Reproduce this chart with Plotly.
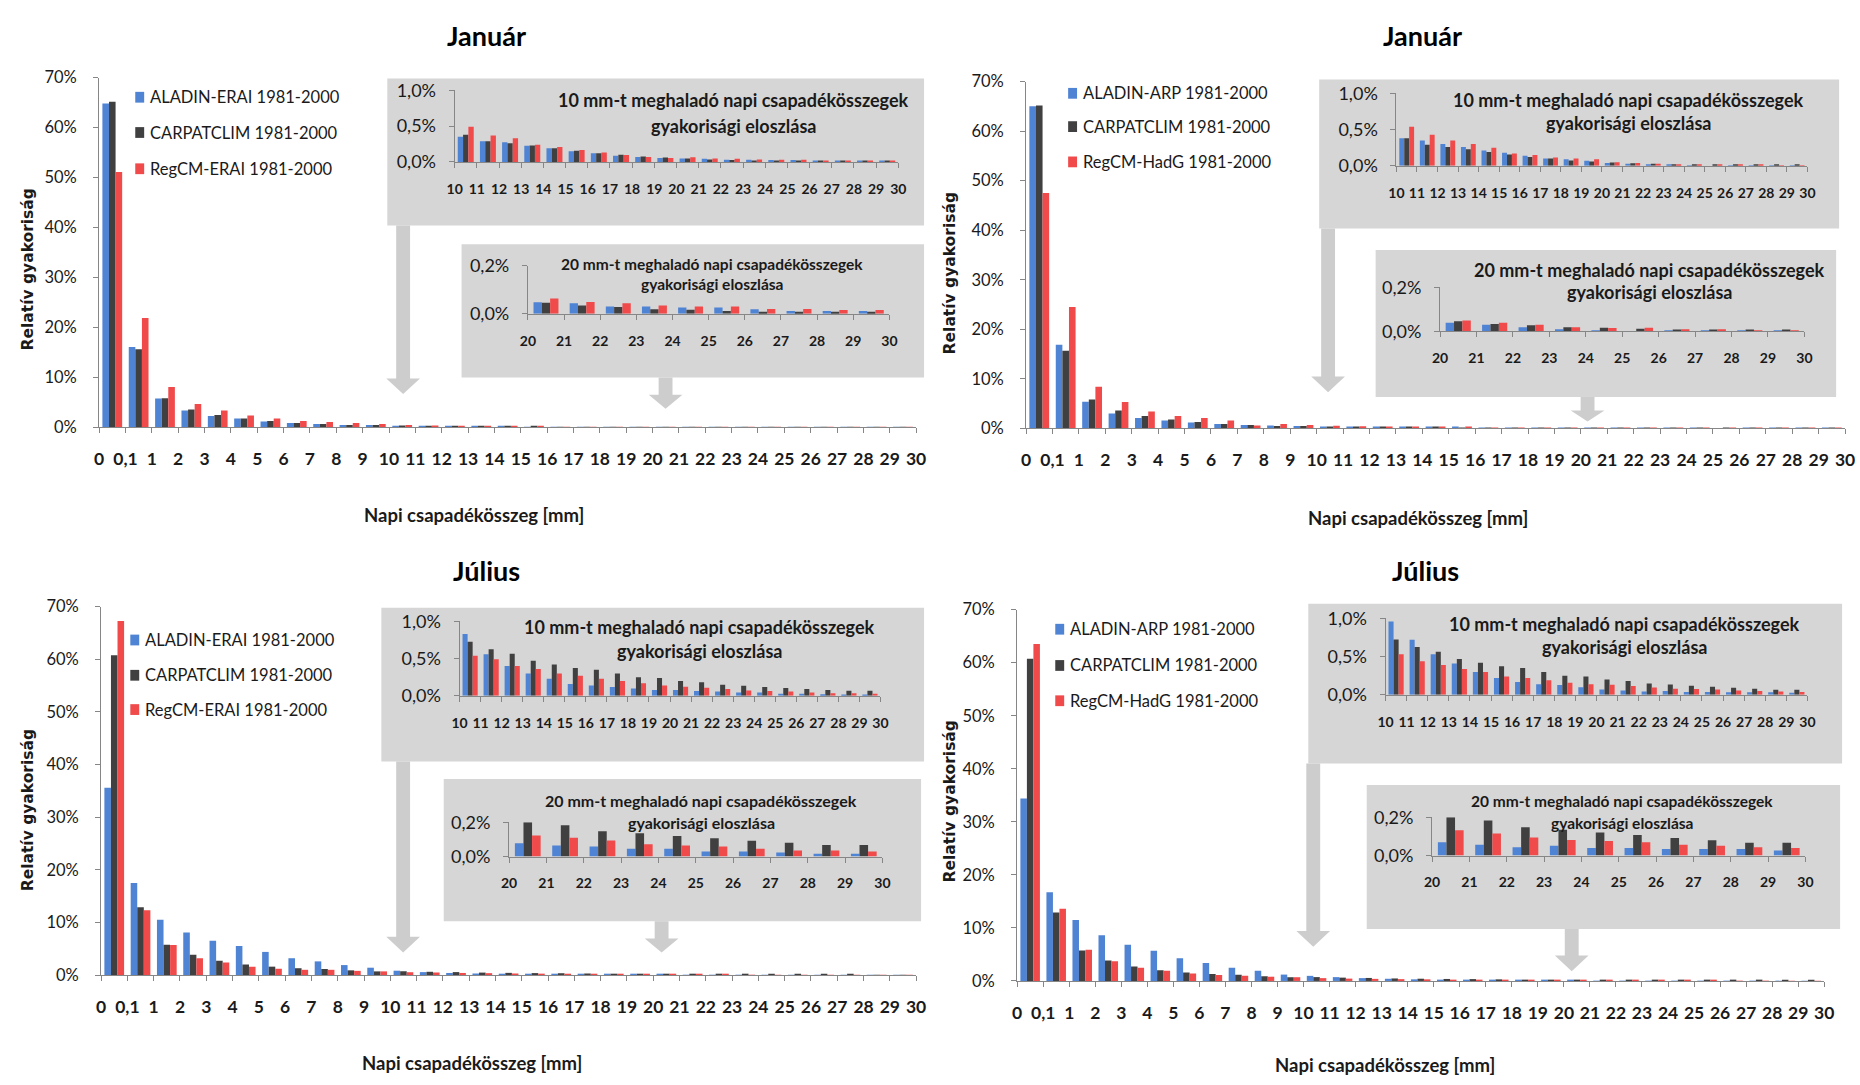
import plotly.graph_objects as go

W, H = 1860, 1085

# Bin edges shown on the category axes and the bins between them
edge_labels = ["0", "0,1"] + [str(i) for i in range(1, 31)]
bin_names = [f"{a}–{b}" for a, b in zip(edge_labels[:-1], edge_labels[1:])]
bin_mid = [i + 0.5 for i in range(len(bin_names))]

# Relative frequency of daily precipitation totals [%], one value per bin
jan_carpatclim = [65.15, 15.65, 5.85, 3.6, 2.5, 1.8, 1.3, 0.9, 0.7, 0.5, 0.5,
                  0.38, 0.29, 0.26, 0.23, 0.19, 0.155, 0.12, 0.10, 0.075, 0.06,
                  0.046, 0.034, 0.028, 0.019, 0.017, 0.012, 0.008, 0.008, 0.008, 0.008]
jan_aladin_erai = [64.8, 16.1, 5.8, 3.4, 2.3, 1.8, 1.2, 0.9, 0.7, 0.5, 0.5,
                   0.35, 0.29, 0.275, 0.225, 0.19, 0.15, 0.12, 0.087, 0.07, 0.055,
                   0.048, 0.044, 0.030, 0.030, 0.026, 0.026, 0.019, 0.011, 0.011, 0.011]
jan_regcm_erai = [51.1, 21.9, 8.1, 4.7, 3.4, 2.4, 1.8, 1.3, 1.1, 0.9, 0.7,
                  0.49, 0.37, 0.33, 0.24, 0.21, 0.165, 0.13, 0.096, 0.07, 0.055,
                  0.064, 0.049, 0.044, 0.034, 0.030, 0.030, 0.020, 0.020, 0.016, 0.016]
jan_aladin_arp = [65.0, 16.9, 5.4, 3.0, 2.1, 1.6, 1.2, 0.9, 0.7, 0.6, 0.5,
                  0.38, 0.35, 0.30, 0.26, 0.21, 0.18, 0.14, 0.10, 0.09, 0.07,
                  0.039, 0.030, 0.019, 0.010, 0.004, 0.0, 0.004, 0.004, 0.004, 0.004]
jan_regcm_hadg = [47.5, 24.5, 8.4, 5.3, 3.4, 2.5, 2.1, 1.6, 0.6, 0.9, 0.7,
                  0.54, 0.43, 0.35, 0.30, 0.25, 0.17, 0.15, 0.115, 0.10, 0.09,
                  0.049, 0.039, 0.030, 0.019, 0.015, 0.016, 0.010, 0.010, 0.004, 0.004]

jul_carpatclim = [60.75, 12.9, 5.75, 3.85, 2.7, 2.0, 1.6, 1.3, 1.15, 0.9, 0.7,
                  0.725, 0.625, 0.565, 0.47, 0.42, 0.375, 0.35, 0.30, 0.25, 0.24,
                  0.20, 0.183, 0.148, 0.135, 0.12, 0.107, 0.092, 0.08, 0.067, 0.067]
jul_aladin_erai = [35.6, 17.5, 10.5, 8.1, 6.5, 5.5, 4.4, 3.2, 2.6, 1.9, 1.4,
                   0.83, 0.56, 0.40, 0.30, 0.23, 0.16, 0.14, 0.12, 0.10, 0.08,
                   0.078, 0.064, 0.058, 0.045, 0.045, 0.029, 0.029, 0.023, 0.016, 0.016]
jul_regcm_erai = [67.3, 12.3, 5.7, 3.2, 2.4, 1.6, 1.2, 1.0, 1.0, 0.8, 0.7,
                  0.54, 0.49, 0.40, 0.36, 0.30, 0.27, 0.23, 0.20, 0.17, 0.14,
                  0.122, 0.11, 0.093, 0.072, 0.064, 0.058, 0.045, 0.035, 0.035, 0.029]
jul_aladin_arp = [34.4, 16.7, 11.5, 8.6, 6.8, 5.7, 4.3, 3.4, 2.5, 1.9, 1.2,
                  0.96, 0.72, 0.53, 0.41, 0.30, 0.22, 0.17, 0.14, 0.13, 0.10,
                  0.069, 0.056, 0.044, 0.051, 0.039, 0.039, 0.034, 0.034, 0.034, 0.027]
jul_regcm_hadg = [63.5, 13.6, 5.9, 3.7, 2.5, 1.9, 1.4, 1.1, 1.0, 0.8, 0.7,
                  0.53, 0.44, 0.39, 0.34, 0.30, 0.24, 0.22, 0.19, 0.16, 0.14,
                  0.132, 0.115, 0.095, 0.081, 0.076, 0.069, 0.056, 0.051, 0.044, 0.039]

month_titles = ["Január", "Január", "Július", "Július"]
legend_names = [
    ["ALADIN-ERAI 1981-2000", "CARPATCLIM 1981-2000", "RegCM-ERAI 1981-2000"],
    ["ALADIN-ARP 1981-2000", "CARPATCLIM 1981-2000", "RegCM-HadG 1981-2000"],
    ["ALADIN-ERAI 1981-2000", "CARPATCLIM 1981-2000", "RegCM-ERAI 1981-2000"],
    ["ALADIN-ARP 1981-2000", "CARPATCLIM 1981-2000", "RegCM-HadG 1981-2000"],
]
panel_data = [
    [jan_aladin_erai, jan_carpatclim, jan_regcm_erai],
    [jan_aladin_arp, jan_carpatclim, jan_regcm_hadg],
    [jul_aladin_erai, jul_carpatclim, jul_regcm_erai],
    [jul_aladin_arp, jul_carpatclim, jul_regcm_hadg],
]
inset1_title = ["10 mm-t meghaladó napi csapadékösszegek", "gyakorisági eloszlása"]
inset2_title = ["20 mm-t meghaladó napi csapadékösszegek", "gyakorisági eloszlása"]
x_title = "Napi csapadékösszeg [mm]"
y_title = "Relatív gyakoriság"

COLORS = ["#4f83d3", "#404040", "#f04a4b"]
AXIS_C = "#868686"
TEXT_C = "#1a1a1a"
BOX_C = "#d6d6d6"
ARROW_C = "#cdcdcd"
FONT = "Lato"

# Pixel geometry of each panel (x0, x1, y0, y1 measured from the top-left)
geometry = [
    dict(main=(92, 917, 67, 424), box1=(383, 925, 68, 218), ax1=(451, 899, 80, 153),
         box2=(458, 925, 237, 373), ax2=(525, 890, 259, 308),
         title=(483, 24), xt=(471, 513), yt=(20, 263), leg_x=133, leg_y=(87, 123, 160),
         arrows=[(399, 218, 390), (664, 373, 405)],
         t1=(733, 90, 116, 18), t2=(711, 257, 278, 15.5)),
    dict(main=(1028, 1855, 71, 425), box1=(1324, 1849, 69, 221), ax1=(1402, 1817, 83, 157),
         box2=(1381, 1846, 243, 393), ax2=(1446, 1814, 281, 326),
         title=(1428, 24), xt=(1424, 516), yt=(951, 267), leg_x=1075, leg_y=(83, 117, 153),
         arrows=[(1333, 221, 388), (1595, 393, 418)],
         t1=(1636, 90, 113, 18), t2=(1658, 263, 286, 18)),
    dict(main=(94, 917, 607, 983), box1=(377, 925, 608, 765), ax1=(456, 881, 622, 698),
         box2=(440, 922, 783, 928), ax2=(506, 883, 827, 862),
         title=(483, 570), xt=(469, 1073), yt=(21, 815), leg_x=128, leg_y=(641, 677, 712),
         arrows=[(399, 765, 960), (660, 928, 960)],
         t1=(698, 628, 652, 18), t2=(700, 805, 827, 16)),
    dict(main=(1019, 1834, 610, 989), box1=(1313, 1852, 604, 767), ax1=(1391, 1817, 619, 697),
         box2=(1372, 1850, 789, 936), ax2=(1438, 1815, 822, 861),
         title=(1431, 570), xt=(1390, 1075), yt=(951, 806), leg_x=1062, leg_y=(630, 667, 703),
         arrows=[(1318, 767, 954), (1579, 936, 979)],
         t1=(1632, 625, 648, 18), t2=(1630, 805, 828, 15.5)),
]

# Subplot kinds: first bin shown, y range top, y tick step, y format, bar width, fonts
kinds = [
    dict(key="main", start=0, top=70, dtick=10, fmt="d", w=0.25, xfs=17.5, yfs=16.5,
         ticklen=5, xstand=11, ystand=13),
    dict(key="ax1", start=11, top=1.0, dtick=0.5, fmt=".1f", w=0.24, xfs=14, yfs=18,
         ticklen=5, xstand=9, ystand=9),
    dict(key="ax2", start=21, top=0.2, dtick=0.2, fmt=".1f", w=0.23, xfs=14, yfs=18,
         ticklen=5, xstand=9, ystand=9),
]


def px(x):
    return x / W


def py(y):
    return 1 - y / H


fig = go.Figure()
layout = dict(
    width=W, height=H, margin=dict(l=0, r=0, t=0, b=0),
    paper_bgcolor="white", plot_bgcolor="rgba(0,0,0,0)",
    separators=", ", barmode="overlay", showlegend=False,
    font=dict(family=FONT, color=TEXT_C),
)
shapes = []
annotations = []

n = 0
for p, geo in enumerate(geometry):
    # grey inset backgrounds
    for bk in ("box1", "box2"):
        x0, x1, y0, y1 = geo[bk]
        shapes.append(dict(type="rect", xref="paper", yref="paper", layer="below",
                           x0=px(x0), x1=px(x1), y0=py(y1), y1=py(y0),
                           fillcolor=BOX_C, line=dict(width=0)))
    # pointer arrows from the insets down to the axis
    for ax_, ay0, ay1 in geo["arrows"]:
        hw, sw = 17, 7
        hl = min(16, (ay1 - ay0) * 0.45)
        pts = [(ax_ - sw, ay0), (ax_ + sw, ay0), (ax_ + sw, ay1 - hl), (ax_ + hw, ay1 - hl),
               (ax_, ay1), (ax_ - hw, ay1 - hl), (ax_ - sw, ay1 - hl)]
        path = "M " + " L ".join(f"{px(a):.5f},{py(b):.5f}" for a, b in pts) + " Z"
        shapes.append(dict(type="path", xref="paper", yref="paper", layer="below",
                           path=path, fillcolor=ARROW_C, line=dict(width=0)))

    for k in kinds:
        n += 1
        sfx = "" if n == 1 else str(n)
        xa, ya = f"x{sfx}", f"y{sfx}"
        x0, x1, y0, y1 = geo[k["key"]]
        s = k["start"]
        w = k["w"]
        for j, (vals, name) in enumerate(zip(panel_data[p], legend_names[p])):
            fig.add_trace(go.Bar(
                x=bin_mid[s:], y=vals[s:], customdata=bin_names[s:], name=name,
                width=w, offset=-1.5 * w + j * w,
                marker=dict(color=COLORS[j], line=dict(width=0)),
                xaxis=xa, yaxis=ya,
                hovertemplate="%{customdata}: %{y}%<extra>" + name + "</extra>",
            ))
        layout[f"xaxis{sfx}"] = dict(
            domain=[px(x0), px(x1)], anchor=ya, range=[s, len(bin_names)],
            tickmode="array", tickvals=list(range(s, len(edge_labels))),
            ticktext=edge_labels[s:], ticks="outside", ticklen=k["ticklen"],
            tickcolor=AXIS_C, showline=True, linecolor=AXIS_C, linewidth=1,
            showgrid=False, zeroline=False, ticklabelstandoff=k["xstand"],
            tickfont=dict(family=FONT, size=k["xfs"], color=TEXT_C, weight="bold"),
        )
        layout[f"yaxis{sfx}"] = dict(
            domain=[py(y1), py(y0)], anchor=xa, range=[0, k["top"]],
            tickmode="linear", tick0=0, dtick=k["dtick"], tickformat=k["fmt"],
            ticksuffix="%", ticks="outside", ticklen=k["ticklen"], tickcolor=AXIS_C,
            showline=True, linecolor=AXIS_C, linewidth=1, showgrid=False,
            zeroline=False, ticklabelstandoff=k["ystand"],
            tickfont=dict(family=FONT, size=k["yfs"], color=TEXT_C),
        )

    # panel title, axis titles
    tx, ty = geo["title"]
    annotations.append(dict(text=month_titles[p], x=px(tx), y=py(ty), xref="paper",
                            yref="paper", showarrow=False, xanchor="center", yanchor="middle",
                            font=dict(family=FONT, size=27, color="#000000", weight="bold")))
    tx, ty = geo["xt"]
    annotations.append(dict(text=x_title, x=px(tx), y=py(ty), xref="paper", yref="paper",
                            showarrow=False, xanchor="center", yanchor="middle",
                            font=dict(family=FONT, size=18.5, color=TEXT_C, weight="bold")))
    tx, ty = geo["yt"]
    annotations.append(dict(text=y_title, x=px(tx), y=py(ty), xref="paper", yref="paper",
                            showarrow=False, xanchor="center", yanchor="middle", textangle=-90,
                            font=dict(family="DejaVu Sans", size=15.5, color=TEXT_C,
                                      weight="bold")))
    # inset titles
    for tkey, lines in (("t1", inset1_title), ("t2", inset2_title)):
        cx, l1, l2, fs = geo[tkey]
        for line, ly in zip(lines, (l1, l2)):
            annotations.append(dict(text=line, x=px(cx), y=py(ly), xref="paper", yref="paper",
                                    showarrow=False, xanchor="center", yanchor="middle",
                                    font=dict(family=FONT, size=fs, color=TEXT_C,
                                              weight="bold")))
    # legend: colour square + series name
    lx = geo["leg_x"]
    for j, ly in enumerate(geo["leg_y"]):
        shapes.append(dict(type="rect", xref="paper", yref="paper",
                           x0=px(lx - 4.5), x1=px(lx + 4.5), y0=py(ly + 5.5), y1=py(ly - 5.5),
                           fillcolor=COLORS[j], line=dict(width=0)))
        annotations.append(dict(text=legend_names[p][j], x=px(lx + 8), y=py(ly),
                                xref="paper", yref="paper", showarrow=False,
                                xanchor="left", yanchor="middle",
                                font=dict(family=FONT, size=16.5, color=TEXT_C)))

layout["shapes"] = shapes
layout["annotations"] = annotations
fig.update_layout(**layout)
fig.write_html("out.html")
